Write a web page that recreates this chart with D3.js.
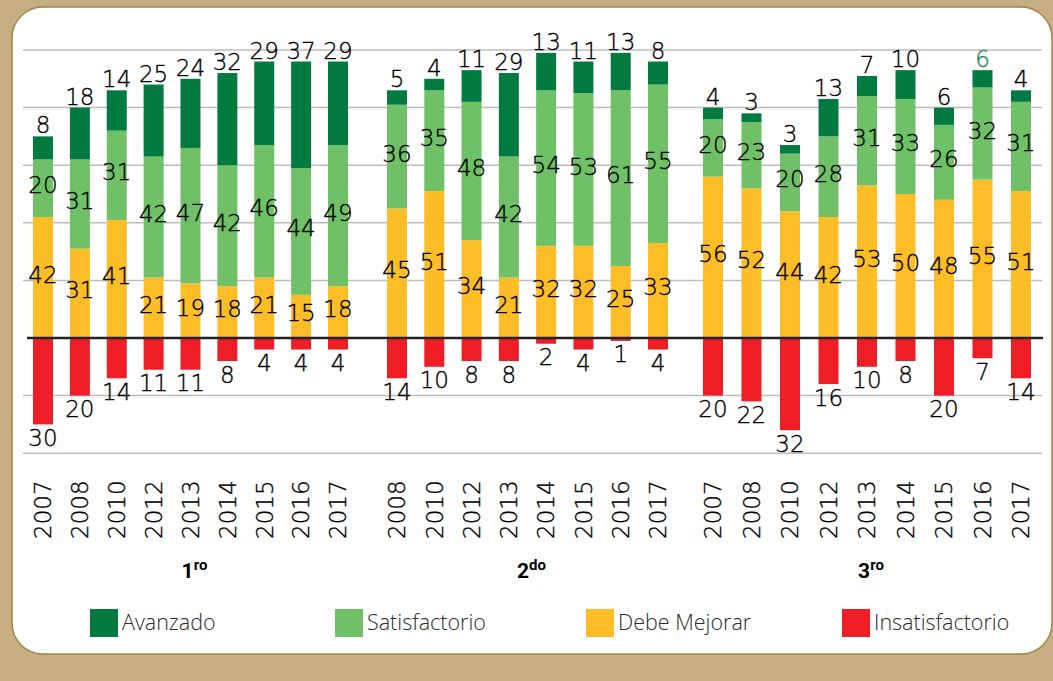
<!DOCTYPE html>
<html>
<head>
<meta charset="utf-8">
<script src="https://cdn.jsdelivr.net/npm/d3@7/dist/d3.min.js"></script>
<style>
  html, body { margin: 0; padding: 0; background: #c6ae83; }
  svg { display: block; }
</style>
</head>
<body>
<svg id="chart" width="1053" height="681"></svg>
<script>
// ---------- DATA ----------
const seriesNames = ["Avanzado", "Satisfactorio", "Debe Mejorar", "Insatisfactorio"];
const groupNums = ["1", "2", "3"];
const groupSups = ["ro", "do", "ro"];

const years1 = ["2007", "2008", "2010", "2012", "2013", "2014", "2015", "2016", "2017"];
const avanzado1 = [8, 18, 14, 25, 24, 32, 29, 37, 29];
const satisfactorio1 = [20, 31, 31, 42, 47, 42, 46, 44, 49];
const debeMejorar1 = [42, 31, 41, 21, 19, 18, 21, 15, 18];
const insatisfactorio1 = [30, 20, 14, 11, 11, 8, 4, 4, 4];

const years2 = ["2008", "2010", "2012", "2013", "2014", "2015", "2016", "2017"];
const avanzado2 = [5, 4, 11, 29, 13, 11, 13, 8];
const satisfactorio2 = [36, 35, 48, 42, 54, 53, 61, 55];
const debeMejorar2 = [45, 51, 34, 21, 32, 32, 25, 33];
const insatisfactorio2 = [14, 10, 8, 8, 2, 4, 1, 4];

const years3 = ["2007", "2008", "2010", "2012", "2013", "2014", "2015", "2016", "2017"];
const avanzado3 = [4, 3, 3, 13, 7, 10, 6, 6, 4];
const satisfactorio3 = [20, 23, 20, 28, 31, 33, 26, 32, 31];
const debeMejorar3 = [56, 52, 44, 42, 53, 50, 48, 55, 51];
const insatisfactorio3 = [20, 22, 32, 16, 10, 8, 20, 7, 14];

const gridValues = [100, 80, 60, 40, 20, -20, -40];

// ---------- STYLE / LAYOUT ----------
const colors = {
  "Avanzado": "#037a3f",
  "Satisfactorio": "#6fc067",
  "Debe Mejorar": "#fdbd27",
  "Insatisfactorio": "#ee1d26"
};
const numFont = "'DejaVu Sans', sans-serif";
const numWeight = 300;
const groupRanges = [[43, 338], [397, 658], [713, 1021]];
const barW = 20;

const groups = [
  { years: years1, av: avanzado1, sat: satisfactorio1, dm: debeMejorar1, ins: insatisfactorio1 },
  { years: years2, av: avanzado2, sat: satisfactorio2, dm: debeMejorar2, ins: insatisfactorio2 },
  { years: years3, av: avanzado3, sat: satisfactorio3, dm: debeMejorar3, ins: insatisfactorio3 }
];
const highlight = { group: 2, year: "2016" };

const svg = d3.select("#chart");

// panel
svg.append("rect")
  .attr("x", 12).attr("y", 7)
  .attr("width", 1040).attr("height", 647)
  .attr("rx", 31).attr("ry", 31)
  .attr("fill", "#ffffff")
  .attr("stroke", "#a08745")
  .attr("stroke-width", 1.5);

const y = d3.scaleLinear().domain([-40, 100]).range([453.2, 50]);

// gridlines
svg.append("g").selectAll("line")
  .data(gridValues).join("line")
  .attr("x1", 23).attr("x2", 1042)
  .attr("y1", d => y(d)).attr("y2", d => y(d))
  .attr("stroke", "#bdbdbd").attr("stroke-width", 1.5);

const keys = ["Insatisfactorio", "Debe Mejorar", "Satisfactorio", "Avanzado"];
const stack = d3.stack().keys(keys).offset(d3.stackOffsetDiverging);

groups.forEach((g, gi) => {
  const x = d3.scalePoint().domain(g.years).range(groupRanges[gi]);
  const rows = g.years.map((yr, i) => ({
    year: yr,
    "Insatisfactorio": -g.ins[i],
    "Debe Mejorar": g.dm[i],
    "Satisfactorio": g.sat[i],
    "Avanzado": g.av[i]
  }));
  const series = stack(rows);
  const layer = svg.append("g");

  series.forEach(s => {
    const key = s.key;
    layer.append("g").selectAll("rect")
      .data(s).join("rect")
      .attr("x", d => x(d.data.year) - barW / 2)
      .attr("width", barW)
      .attr("y", d => y(Math.max(d[0], d[1])))
      .attr("height", d => Math.abs(y(d[0]) - y(d[1])))
      .attr("fill", colors[key]);
  });

  // labels
  series.forEach(s => {
    const key = s.key;
    layer.append("g").selectAll("text")
      .data(s).join("text")
      .attr("x", d => x(d.data.year))
      .attr("y", d => {
        if (key === "Avanzado") return y(d[1]) - 3;
        if (key === "Insatisfactorio") return y(d[0]) + 21.5;
        return (y(d[0]) + y(d[1])) / 2 + 5;
      })
      .attr("text-anchor", "middle")
      .attr("font-family", numFont)
      .attr("font-weight", numWeight)
      .attr("font-size", 23)
      .attr("fill", d => (key === "Avanzado" && gi === highlight.group && d.data.year === highlight.year) ? "#1d8a57" : "#000")
      .attr("stroke", d => (key === "Avanzado" && gi === highlight.group && d.data.year === highlight.year) ? "#1d8a57" : "#000")
      .attr("stroke-width", 0.35)
      .text(d => Math.abs(d.data[key]));
  });

  // year axis labels
  layer.append("g").selectAll("text")
    .data(g.years).join("text")
    .attr("transform", d => `translate(${x(d)},539) rotate(-90)`)
    .attr("dy", "0.36em")
    .attr("text-anchor", "start")
    .attr("font-family", numFont)
    .attr("font-weight", numWeight)
    .attr("font-size", 23)
    .attr("fill", "#000")
    .attr("stroke", "#000")
    .attr("stroke-width", 0.35)
    .text(d => d);

  // group label
  const cx = (groupRanges[gi][0] + groupRanges[gi][1]) / 2 + 4;
  const gt = svg.append("text")
    .attr("x", cx).attr("y", 578)
    .attr("text-anchor", "middle")
    .attr("font-family", "Roboto, sans-serif")
    .attr("font-weight", 700)
    .attr("font-size", 21)
    .attr("fill", "#000");
  gt.append("tspan").text(groupNums[gi]);
  gt.append("tspan").attr("font-size", 15).attr("dy", -8).text(groupSups[gi]);
});

// baseline
svg.append("line")
  .attr("x1", 27).attr("x2", 1043)
  .attr("y1", y(0)).attr("y2", y(0))
  .attr("stroke", "#222").attr("stroke-width", 2.5);

// legend
const legendX = [90, 335, 586, 842];
const legend = svg.append("g").selectAll("g")
  .data(seriesNames).join("g")
  .attr("transform", (d, i) => `translate(${legendX[i]},609)`);
legend.append("rect")
  .attr("width", 28).attr("height", 28)
  .attr("fill", d => colors[d]);
legend.append("text")
  .attr("x", 32).attr("y", 21)
  .attr("font-family", "'Open Sans', sans-serif")
  .attr("font-weight", 300)
  .attr("font-size", 21.5)
  .attr("fill", "#2a2a2a")
  .text(d => d);
</script>
</body>
</html>
